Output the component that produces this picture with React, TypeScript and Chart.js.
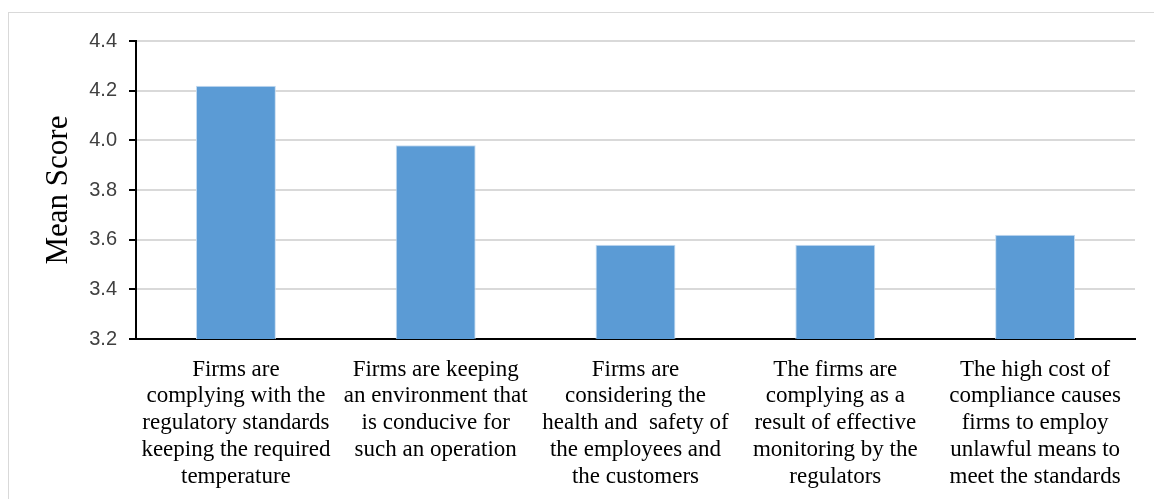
import React, { useEffect, useRef } from "react";
import { Chart, registerables } from "chart.js";

Chart.register(...registerables);

const categories: string[][] = [
  ["Firms are", "complying with the", "regulatory standards", "keeping the required", "temperature"],
  ["Firms are keeping", "an environment that", "is conducive for", "such an operation"],
  ["Firms are", "considering the", "health and  safety of", "the employees and", "the customers"],
  ["The firms are", "complying as a", "result of effective", "monitoring by the", "regulators"],
  ["The high cost of", "compliance causes", "firms to employ", "unlawful means to", "meet the standards"],
];
const meanScores: number[] = [4.22, 3.98, 3.58, 3.58, 3.62];
const yMin = 3.2;
const yMax = 4.4;
const yStep = 0.2;
const yTitle = "Mean Score";

export default function App() {
  const ref = useRef<HTMLCanvasElement | null>(null);

  useEffect(() => {
    if (!ref.current) return;
    const chart = new Chart(ref.current, {
      type: "bar",
      data: {
        labels: categories,
        datasets: [
          {
            data: meanScores,
            backgroundColor: "#5b9bd5",
            borderColor: "#c6dbef",
            borderWidth: 1,
            barPercentage: 0.4,
            categoryPercentage: 1,
          },
        ],
      },
      options: {
        responsive: false,
        animation: false,
        layout: { padding: { top: 28, right: 19, left: 0, bottom: 0 } },
        plugins: { legend: { display: false }, tooltip: { enabled: false } },
        scales: {
          x: {
            grid: { display: false, drawTicks: false },
            border: { color: "#000", width: 2 },
            ticks: {
              autoSkip: false,
              maxRotation: 0,
              minRotation: 0,
              padding: 17,
              color: "#000",
              font: { family: "'Liberation Serif', 'Times New Roman', serif", size: 23, lineHeight: 1.17 },
            },
            afterFit: (s: any) => {
              s.height = 160;
            },
          },
          y: {
            min: yMin,
            max: yMax,
            grid: { color: "#d9d9d9", lineWidth: 2, tickColor: "#000", tickLength: 7 },
            border: { color: "#000", width: 2 },
            ticks: {
              stepSize: yStep,
              padding: 12,
              color: "#404040",
              font: { family: "'Liberation Sans', Arial, sans-serif", size: 20 },
              callback: (v: any) => Number(v).toFixed(1),
            },
            title: {
              display: true,
              text: yTitle,
              color: "#000",
              padding: { top: 31, bottom: 0 },
              font: { family: "'Liberation Serif', 'Times New Roman', serif", size: 31 },
            },
            afterFit: (s: any) => {
              s.width = 127;
            },
          },
        },
      },
    });
    return () => chart.destroy();
  }, []);

  return (
    <div style={{ position: "fixed", left: 0, top: 0, width: 1154, height: 499, overflow: "hidden", background: "#fff" }}>
      <div
        style={{
          position: "absolute",
          left: 8,
          top: 12,
          borderLeft: "1px solid #d9d9d9",
          borderTop: "1px solid #d9d9d9",
          width: 1150,
          height: 490,
        }}
      >
        <canvas ref={ref} width={1145} height={486} style={{ display: "block" }} />
      </div>
    </div>
  );
}
